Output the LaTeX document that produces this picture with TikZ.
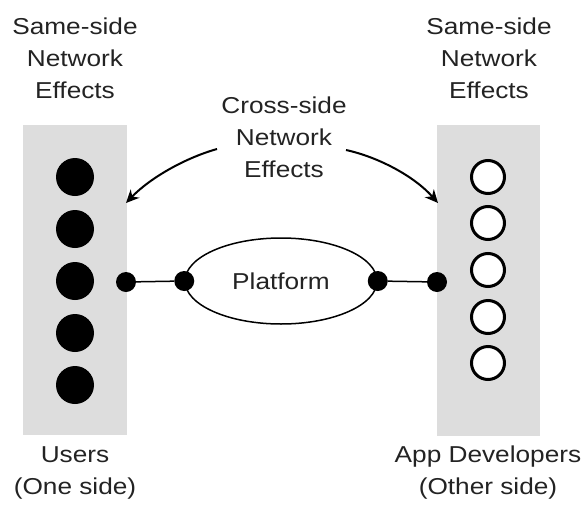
\documentclass[tikz,border=0pt]{standalone}
\usepackage{fontspec}
\setmainfont{Liberation Sans}[FakeStretch=1.14]
\usetikzlibrary{arrows.meta,shapes.geometric}
\definecolor{panelgray}{RGB}{221,221,221}
\definecolor{txt}{RGB}{35,35,35}
\begin{document}
\begin{tikzpicture}[x=1pt,y=-1pt,
  lbl/.style={font=\fontsize{23}{32}\selectfont, text=txt, align=center, inner sep=0pt},
  panel/.style={fill=panelgray, draw=none, inner sep=0pt},
  fullball/.style={circle, fill=black, draw=none, minimum size=38pt, inner sep=0pt},
  openball/.style={circle, fill=white, draw=black, line width=3pt, minimum size=33pt, inner sep=0pt},
  joint/.style={circle, fill=black, draw=none, minimum size=20pt, inner sep=0pt},
  link/.style={line width=1.5pt},
  effect/.style={line width=2pt, -{Stealth[length=13pt,width=12pt,inset=4pt]}}]
\useasboundingbox (0,0) rectangle (587,504);
% panels
\node[panel, minimum width=104pt, minimum height=310pt] (lpanel) at (75,280) {};
\node[panel, minimum width=103pt, minimum height=311pt] (rpanel) at (488.5,280.5) {};
% balls
\node[fullball] (u1) at (75,177) {};
\node[fullball] (u2) at (75,229) {};
\node[fullball] (u3) at (75,281) {};
\node[fullball] (u4) at (75,333) {};
\node[fullball] (u5) at (75,385) {};
\node[openball] (d1) at (488,177) {};
\node[openball] (d2) at (488,223) {};
\node[openball] (d3) at (488,270) {};
\node[openball] (d4) at (488,317) {};
\node[openball] (d5) at (488,363) {};
% platform
\node[ellipse, draw=black, line width=1.5pt, fill=white, minimum width=192pt, minimum height=86pt, inner sep=0pt,
      font=\fontsize{23}{32}\selectfont, text=txt] (plat) at (281,281) {Platform};
\node[joint] (pl) at (plat.west) {};
\node[joint] (pr) at (plat.east) {};
\node[joint] (ul) at (126,282) {};
\node[joint] (dr) at (437,282) {};
\draw[link] (ul) -- (pl);
\draw[link] (pr) -- (dr);
% labels (anchor base = baseline of last line)
\node[lbl, anchor=base] (ltop) at (75,98) {Same-side\\Network\\Effects};
\node[lbl, anchor=base] (rtop) at (489,98) {Same-side\\Network\\Effects};
\node[lbl, anchor=base] (cross) at (284,177) {Cross-side\\Network\\Effects};
\node[lbl, anchor=base] (lbot) at (75,494) {Users\\(One side)};
\node[lbl, anchor=base] (rbot) at (488,494) {App Developers\\(Other side)};
% arrows
\coordinate (la) at (217,149);
\coordinate (lt) at (126,203);
\coordinate (ra) at (346,150);
\coordinate (rt) at (438,203);
\draw[effect] (la) .. controls (185,158) and (150,178) .. (lt);
\draw[effect] (ra) .. controls (378,157) and (414,176) .. (rt);
\end{tikzpicture}
\end{document}
